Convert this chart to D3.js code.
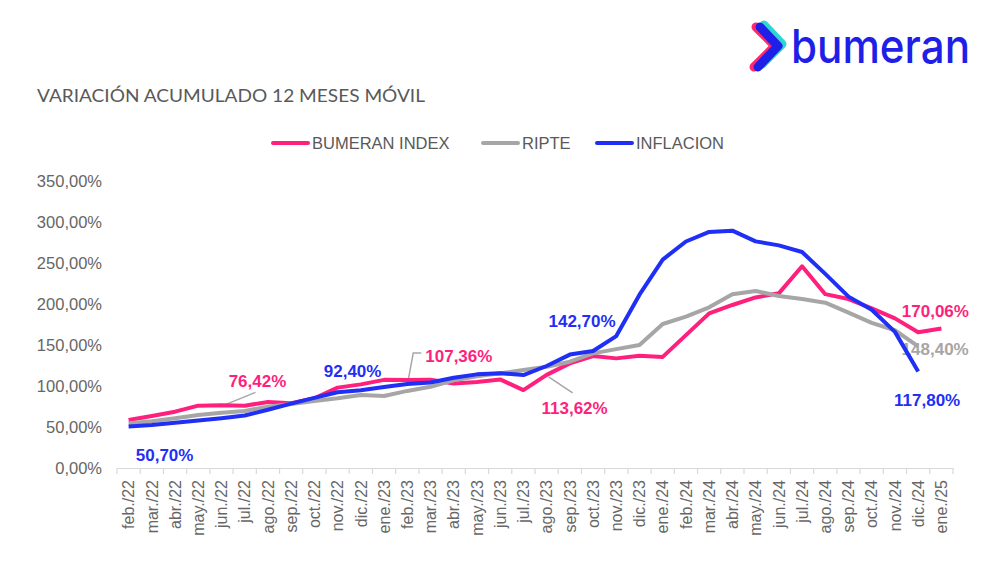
<!DOCTYPE html>
<html>
<head>
<meta charset="utf-8">
<script src="https://cdn.jsdelivr.net/npm/d3@7"></script>
<style>
  html, body { margin: 0; padding: 0; background: #fff; }
  svg text { font-family: "Liberation Sans", Arial, sans-serif; }
</style>
</head>
<body>
<div id="chart"></div>
<script>
// categories (x axis)
var months = ["feb./22", "mar./22", "abr./22", "may./22", "jun./22", "jul./22", "ago./22", "sep./22",
    "oct./22", "nov./22", "dic./22", "ene./23", "feb./23", "mar./23", "abr./23", "may./23", "jun./23",
    "jul./23", "ago./23", "sep./23", "oct./23", "nov./23", "dic./23", "ene./24", "feb./24", "mar./24",
    "abr./24", "may./24", "jun./24", "jul./24", "ago./24", "sep./24", "oct./24", "nov./24", "dic./24",
    "ene./25"];

// series values, %
var bumeranIndex = [58.5, 63.4, 68.7, 76.0, 76.42, 76.0, 80.5, 78.9, 85.0, 98.0, 102.0, 107.5, 107.36,
    107.5, 103.0, 105.0, 108.0, 95.0, 113.62, 127.6, 136.6, 133.7, 137.0, 135.5, 162.0, 188.6, 198.8,
    208.0, 213.0, 246.0, 212.0, 206.0, 194.7, 182.5, 165.5, 170.06];
var ripte = [54.5, 57.0, 60.6, 64.6, 67.5, 69.5, 74.8, 78.0, 81.7, 85.0, 89.0, 87.8, 94.0, 99.0, 107.0,
    112.0, 115.5, 119.5, 123.5, 129.6, 139.8, 145.0, 150.0, 175.6, 184.5, 196.0, 212.0, 215.8, 209.8,
    206.0, 201.6, 189.4, 177.0, 168.0, 148.4];
var inflacion = [50.7, 52.3, 55.1, 58.0, 60.7, 64.0, 71.0, 78.5, 85.5, 92.4, 94.8, 98.8, 102.5, 104.3,
    110.0, 114.2, 115.6, 113.4, 124.4, 138.3, 142.7, 160.9, 211.4, 254.2, 276.2, 287.9, 289.4, 276.4,
    271.5, 263.4, 236.7, 209.0, 193.0, 166.0, 117.8];

// y tick values
var yTicks = [0, 50, 100, 150, 200, 250, 300, 350];

// legend names
var seriesNames = ["BUMERAN INDEX", "RIPTE", "INFLACION"];

// data labels: which series and which month
var labelSeries = ["inflacion", "bumeran", "inflacion", "bumeran", "bumeran", "inflacion", "bumeran", "ripte", "inflacion"];
var labelMonths = ["feb./22", "jun./22", "nov./22", "feb./23", "ago./23", "oct./23", "ene./25", "dic./24", "dic./24"];

var width = 1000;
var height = 569;

var colors = {
    bumeran: '#ff1f7d',
    ripte: '#a6a6a6',
    inflacion: '#1f2ff5'
};
var seriesData = {
    bumeran: bumeranIndex,
    ripte: ripte,
    inflacion: inflacion
};
var seriesKeys = ['bumeran', 'ripte', 'inflacion'];

var pct = d3.formatLocale({decimal: ',', thousands: '.', grouping: [3], currency: ['', '']});
var fmt = pct.format('.2f');
function fmtPct(v) { return fmt(v) + '%'; }

var svg = d3.select('#chart').append('svg')
    .attr('width', width)
    .attr('height', height);

var x = d3.scaleBand()
    .domain(months)
    .range([117, 953]);

var y = d3.scaleLinear()
    .domain([0, 350])
    .range([468, 181]);

function cx(m) { return x(m) + x.bandwidth() / 2; }

// logo
var logo = svg.append('g');
logo.append('path')
    .attr('d', 'M756,27 L775,46 L754,67')
    .attr('fill', 'none').attr('stroke', '#ff2a6d').attr('stroke-width', 9)
    .attr('stroke-linecap', 'round').attr('stroke-linejoin', 'round');
logo.append('path')
    .attr('d', 'M764,25 L782,44 L762,64')
    .attr('fill', 'none').attr('stroke', '#2fd6d0').attr('stroke-width', 9)
    .attr('stroke-linecap', 'round').attr('stroke-linejoin', 'round');
logo.append('path')
    .attr('d', 'M760,27 L778,46 L758,67')
    .attr('fill', 'none').attr('stroke', '#1f1fe8').attr('stroke-width', 9)
    .attr('stroke-linecap', 'round').attr('stroke-linejoin', 'round');
logo.append('text')
    .attr('x', 791).attr('y', 63)
    .attr('textLength', 179).attr('lengthAdjust', 'spacingAndGlyphs')
    .style('font-family', 'Inter, "Noto Sans", sans-serif')
    .style('font-size', '47px')
    .style('font-weight', 500)
    .attr('fill', '#1f1fe8')
    .text('bumeran');

// title
svg.append('text')
    .attr('x', 37).attr('y', 102)
    .attr('textLength', 388).attr('lengthAdjust', 'spacingAndGlyphs')
    .style('font-family', 'Lato, "Open Sans", sans-serif')
    .style('font-size', '17px')
    .attr('fill', '#595959')
    .text('VARIACIÓN ACUMULADO 12 MESES MÓVIL');

// legend
var legendX = [273, 483, 597];
var legend = svg.append('g');
seriesKeys.forEach(function (k, i) {
    legend.append('line')
        .attr('x1', legendX[i]).attr('x2', legendX[i] + 35)
        .attr('y1', 143).attr('y2', 143)
        .attr('stroke', colors[k]).attr('stroke-width', 4)
        .attr('stroke-linecap', 'round');
    legend.append('text')
        .attr('x', legendX[i] + 39).attr('y', 149)
        .style('font-size', '16.5px')
        .attr('fill', '#595959')
        .text(seriesNames[i]);
});

// y axis labels
var yAxis = d3.axisLeft(y)
    .tickValues(yTicks)
    .tickSize(0)
    .tickPadding(0)
    .tickFormat(fmtPct);
svg.append('g')
    .attr('class', 'axis y')
    .attr('transform', 'translate(102,0)')
    .call(yAxis)
    .call(function (g) { g.select('.domain').remove(); })
    .selectAll('text')
    .style('font-family', '"Liberation Sans", Arial, sans-serif')
    .style('font-size', '16.5px')
    .attr('fill', '#666');

// x axis
var xAxis = d3.axisBottom(x)
    .tickSize(0)
    .tickPadding(0);
var xg = svg.append('g')
    .attr('class', 'axis x')
    .attr('transform', 'translate(0,468)')
    .call(xAxis);
xg.select('.domain').attr('stroke', '#d9d9d9').attr('stroke-width', 1.2);
xg.selectAll('.tick text')
    .attr('transform', 'rotate(-90)')
    .attr('text-anchor', 'end')
    .attr('x', -12)
    .attr('y', 0)
    .attr('dy', '0.36em')
    .style('font-family', '"Liberation Sans", Arial, sans-serif')
    .style('font-size', '16px')
    .attr('fill', '#666');
// boundary ticks
var bounds = months.map(function (m) { return x(m); }).concat([x.range()[1]]);
xg.selectAll('.bound')
    .data(bounds)
    .enter().append('line')
    .attr('class', 'bound')
    .attr('x1', function (d) { return d; })
    .attr('x2', function (d) { return d; })
    .attr('y1', 0).attr('y2', 6)
    .attr('stroke', '#d9d9d9').attr('stroke-width', 1.2);

// data labels (drawn under the lines)
var labelLayout = [
    {dx: 36, dy: 35, anchor: 'middle'},
    {dx: 36, dy: -18, anchor: 'middle', leader: [[2, 0], [34, -13]]},
    {dx: 15, dy: -15, anchor: 'middle'},
    {dx: 18, dy: -18, anchor: 'start', leader: [[1, 0], [6, -27], [14, -27]]},
    {dx: 28, dy: 39, anchor: 'middle', leader: [[2, 2], [26, 18]]},
    {dx: -11, dy: -24, anchor: 'middle'},
    {dx: -6, dy: -12, anchor: 'middle'},
    {dx: 17, dy: 9, anchor: 'middle'},
    {dx: 9, dy: 35, anchor: 'middle'}
];
var labels = svg.append('g');
labelSeries.forEach(function (s, i) {
    var idx = months.indexOf(labelMonths[i]);
    var v = seriesData[s][idx];
    var px = cx(labelMonths[i]);
    var py = y(v);
    var lay = labelLayout[i];
    if (lay.leader) {
        labels.append('path')
            .attr('d', d3.line()(lay.leader.map(function (p) { return [px + p[0], py + p[1]]; })))
            .attr('fill', 'none')
            .attr('stroke', '#a6a6a6')
            .attr('stroke-width', 1.5);
    }
    labels.append('text')
        .attr('x', px + lay.dx)
        .attr('y', py + lay.dy)
        .attr('text-anchor', lay.anchor)
        .style('font-size', '17px')
        .style('font-weight', 'bold')
        .attr('fill', colors[s])
        .text(fmtPct(v));
});

// lines
var line = d3.line()
    .x(function (d, i) { return cx(months[i]); })
    .y(function (d) { return y(d); });

var lines = svg.append('g');
seriesKeys.forEach(function (k) {
    lines.append('path')
        .attr('d', line(seriesData[k]))
        .attr('fill', 'none')
        .attr('stroke', colors[k])
        .attr('stroke-width', 4)
        .attr('stroke-linejoin', 'round');
});
</script>
</body>
</html>
